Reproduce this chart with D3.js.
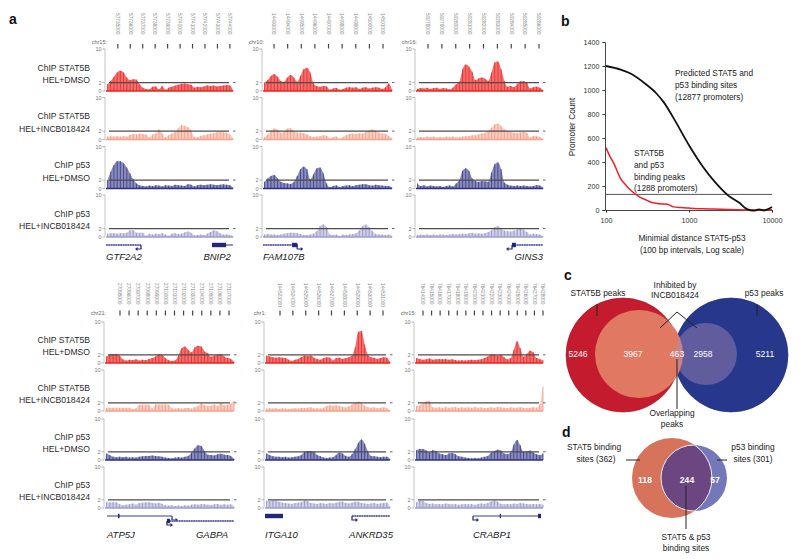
<!DOCTYPE html>
<html><head><meta charset="utf-8">
<script src="https://cdn.jsdelivr.net/npm/d3@7"></script>
<style>body{margin:0;background:#fff}svg{display:block;font-family:"Liberation Sans",Arial,sans-serif}</style>
</head><body><svg id="c" width="800" height="559"></svg>
<script>
// ---------------- DATA ----------------
const trackLabels = [["ChIP STAT5B","HEL+DMSO"],["ChIP STAT5B","HEL+INCB018424"],["ChIP p53","HEL+DMSO"],["ChIP p53","HEL+INCB018424"]];
const axisTicks = [0, 2, 10];
const threshold = 2;
const chrNames = ["chr15:","chr10:","chr16:","chr21:","chr1:","chr15:"];

const coords1 = [57735000,57736000,57737000,57738000,57739000,57740000,57741000,57742000,57743000,57744000];
const coords2 = [14493000,14494000,14495000,14496000,14497000,14498000,14499000,14500000,14501000];
const coords3 = [50278000,50279000,50280000,50281000,50282000,50283000,50284000,50285000,50286000];
const coords4 = [27095000,27096000,27097000,27098000,27099000,27100000,27101000,27102000,27103000,27104000,27105000,27106000,27107000];
const coords5 = [144523000,144524000,144525000,144526000,144527000,144528000,144529000,144530000,144531000];
const coords6 = [76414000,76415000,76416000,76417000,76418000,76419000,76420000,76421000,76422000,76423000,76424000,76425000,76426000,76427000,76428000];
const window1 = [57734050, 57744250];
const window2 = [14492190, 14501660];
const window3 = [50277135, 50286288];
const window4 = [27093350, 27107550];
const window5 = [144521835, 144531544];
const window6 = [76413067, 76428000];

// panel 1: GTF2A2 / BNIP2
const p1_stat5b_dmso = [1.6,2.4,3.4,4.4,4.8,4.4,3.2,2.6,2.8,2.7,1.6,0.8,0.5,0.4,1.0,1.1,0.4,1.2,0.3,0.8,1.0,1.3,1.5,1.7,1.8,1.6,1.5,0.8,1.0,0.9,1.1,1.3,1.2,1.3,1.1,1.2,1.3,1.4,1.3,0.2];
const p1_stat5b_incb = [0.7,0.8,0.7,0.8,0.7,0.8,0.7,1.1,1.3,1.2,1.4,1.3,1.2,0.5,1.2,1.4,2.4,1.5,0.5,1.0,1.4,1.8,2.6,3.4,3.2,2.9,2.2,0.6,0.5,0.9,1.0,1.2,1.4,1.5,1.7,1.8,1.7,1.6,1.2,0.3];
const p1_p53_dmso = [2.0,4.0,5.6,6.5,6.5,6.0,5.0,3.6,2.2,1.2,0.8,0.6,0.5,0.7,0.6,0.8,0.7,0.5,0.8,0.7,0.6,0.9,0.8,0.7,0.6,1.0,0.9,0.5,0.8,0.9,0.8,0.9,1.0,0.9,0.8,0.9,1.0,0.9,0.8,0.2];
const p1_p53_incb = [0.8,0.9,0.9,0.8,0.9,0.9,1.0,1.6,1.6,1.0,1.0,1.0,0.3,0.8,0.6,0.8,0.7,0.9,0.6,0.3,0.8,0.9,0.7,0.8,1.1,1.3,1.0,0.4,0.5,0.6,0.5,0.8,1.2,1.6,1.4,0.9,0.6,0.6,0.5,0.2];
// panel 2: FAM107B
const p2_stat5b_dmso = [2.0,2.6,3.6,4.0,3.4,2.4,2.2,3.2,3.8,3.2,2.2,3.6,5.2,5.5,4.4,1.8,1.2,1.0,1.2,1.1,0.3,0.6,0.7,0.3,0.5,0.8,0.9,0.8,0.9,0.5,0.8,0.9,0.6,0.8,0.9,0.8,0.5,0.9,1.8,0.3];
const p2_stat5b_incb = [0.6,1.2,2.0,2.6,2.4,1.6,1.8,2.6,2.7,2.0,1.6,1.6,1.5,1.2,0.8,0.6,0.7,0.8,1.0,0.9,0.3,0.6,0.7,0.2,0.6,1.0,1.3,1.4,1.3,1.5,1.4,1.8,2.2,2.4,2.1,1.6,1.4,1.3,0.8,0.3];
const p2_p53_dmso = [1.6,2.4,3.0,3.2,2.4,1.6,1.3,1.2,1.1,1.6,3.0,4.6,5.2,4.6,2.2,3.4,4.8,5.0,3.6,1.2,0.3,0.6,0.7,0.3,0.6,0.7,0.8,0.6,0.8,0.9,1.0,1.0,0.8,0.7,0.9,0.8,0.7,0.6,0.6,0.2];
const p2_p53_incb = [0.6,0.7,0.6,0.6,0.5,0.6,0.8,0.9,1.0,1.0,0.9,0.7,0.5,0.5,0.6,0.8,1.4,2.6,3.0,2.4,0.6,0.5,0.6,0.2,0.6,0.5,0.6,0.7,0.9,1.6,2.6,3.0,2.4,1.4,0.7,0.6,0.6,0.5,0.6,0.2];
// panel 3: GINS3
const p3_stat5b_dmso = [0.5,0.7,0.6,0.8,0.5,0.7,0.8,0.5,0.7,0.6,0.4,0.8,1.6,2.2,5.2,6.3,5.8,4.6,2.6,3.0,3.2,2.9,2.4,4.4,6.8,7.0,5.2,2.4,1.0,1.2,0.9,1.6,2.3,2.3,1.9,0.6,0.9,1.0,0.8,0.2];
const p3_stat5b_incb = [0.5,0.6,0.5,0.7,0.6,0.7,0.5,0.6,0.5,0.7,0.6,0.7,0.5,0.6,0.7,0.8,0.8,1.0,1.0,1.2,1.4,1.6,2.0,2.8,3.6,3.8,3.2,2.4,2.0,1.8,1.6,1.5,1.7,1.8,1.6,0.5,0.9,0.8,0.6,0.2];
const p3_p53_dmso = [1.2,0.6,0.8,0.5,0.7,0.6,0.5,0.6,0.4,0.6,0.7,0.5,1.2,2.0,4.2,4.8,4.2,2.4,1.8,1.6,1.8,1.7,1.6,3.8,5.8,6.2,4.6,1.4,0.9,0.7,0.6,0.7,0.6,0.7,0.6,0.5,0.6,0.8,0.7,0.2];
const p3_p53_incb = [0.5,0.6,0.5,0.6,0.5,0.6,0.5,0.6,0.6,0.5,0.6,0.7,0.6,0.7,0.8,0.7,0.9,1.0,0.8,0.9,0.8,0.9,1.2,1.6,2.4,2.6,2.0,1.5,1.4,1.3,1.5,1.8,2.0,1.7,1.2,0.6,0.8,0.7,0.6,0.2];
// panel 4: ATP5J / GABPA
const p4_stat5b_dmso = [1.6,2.0,2.2,2.2,1.8,0.9,0.6,0.8,0.7,0.9,0.6,0.8,0.7,1.0,1.2,1.6,2.2,2.0,1.2,0.7,0.5,0.6,1.8,3.6,4.0,3.2,2.6,3.8,4.2,4.0,2.8,2.4,1.5,1.8,2.0,2.2,1.6,1.2,1.0,0.3];
const p4_stat5b_incb = [0.8,0.8,0.8,0.8,0.8,0.8,0.8,0.8,0.5,0.6,1.5,1.5,1.5,1.5,0.6,1.6,1.6,1.6,1.6,1.5,0.7,0.6,0.7,0.6,0.7,0.8,0.6,0.9,1.2,1.8,1.4,1.2,1.3,1.6,1.2,2.0,1.4,1.5,1.8,2.5];
const p4_p53_dmso = [1.6,1.2,0.8,0.7,0.8,0.7,0.8,0.6,0.7,0.6,0.8,0.9,1.0,1.0,1.1,1.0,0.9,0.8,0.6,0.5,0.4,0.6,0.7,0.6,0.8,1.0,1.8,2.8,3.6,3.4,2.2,1.3,1.2,1.1,1.4,1.5,1.3,1.2,1.0,0.3];
const p4_p53_incb = [1.4,1.4,1.4,1.4,0.9,0.7,0.8,0.9,1.1,0.8,1.2,1.3,1.4,1.4,1.2,1.1,1.3,1.0,0.7,0.6,0.7,0.5,0.6,0.5,0.7,0.6,0.8,0.9,0.8,1.0,0.9,0.8,0.7,0.9,1.0,0.8,0.9,0.8,0.9,0.3];
// panel 5: ITGA10 / ANKRD35
const p5_stat5b_dmso = [1.8,1.6,1.4,1.3,1.4,1.3,1.2,0.8,0.5,0.8,1.0,1.4,1.8,1.7,1.8,1.3,1.0,0.8,1.2,1.4,1.3,0.6,1.2,1.3,1.0,1.2,1.4,1.8,3.8,7.6,7.8,4.5,2.0,1.4,1.3,1.0,1.2,1.4,1.3,0.3];
const p5_stat5b_incb = [0.6,0.7,0.6,0.7,0.5,0.7,0.6,0.5,0.6,0.7,0.6,0.8,0.7,0.8,0.9,0.6,0.7,0.6,0.8,1.2,1.4,1.3,1.4,1.2,1.0,0.9,1.1,1.6,2.0,2.3,2.0,1.3,0.9,0.8,0.9,0.7,0.8,0.9,0.7,0.2];
const p5_p53_dmso = [1.6,1.2,0.9,0.8,0.8,0.7,0.8,0.6,0.7,0.8,0.9,1.2,2.0,2.2,2.2,2.0,1.2,0.9,0.6,0.5,0.6,0.7,1.2,1.8,1.6,1.0,0.8,1.4,2.6,4.2,5.0,4.0,2.2,1.0,0.9,0.8,0.7,0.8,0.8,0.2];
const p5_p53_incb = [1.8,1.7,1.8,1.8,1.5,1.3,1.2,1.1,1.0,1.2,1.3,1.4,1.8,1.7,1.2,1.1,1.0,1.2,1.1,1.0,1.2,1.1,1.3,1.5,1.6,1.2,1.1,1.3,1.5,1.5,1.2,1.1,1.0,1.1,1.2,1.0,1.1,1.2,1.3,0.3];
// panel 6: CRABP1
const p6_stat5b_dmso = [1.2,1.0,0.8,0.9,1.1,0.8,0.9,1.0,0.9,1.0,0.8,0.9,0.7,0.6,0.7,0.6,0.7,0.8,0.7,0.8,0.9,1.2,1.6,2.0,2.0,1.8,2.0,1.4,0.9,1.2,3.2,5.3,3.6,1.5,2.2,3.0,2.6,1.2,1.0,0.6];
const p6_stat5b_incb = [1.2,1.4,1.8,2.4,2.5,0.9,0.8,0.9,0.8,1.0,0.8,0.9,1.0,0.8,0.9,0.8,0.9,0.8,1.0,0.8,0.9,0.7,0.8,0.9,0.8,1.0,0.9,0.8,0.7,0.9,0.8,0.8,0.9,0.8,0.7,0.8,0.9,0.8,1.6,6.0];
const p6_p53_dmso = [2.4,2.7,2.7,2.3,1.8,2.4,2.2,1.6,1.4,1.2,1.6,1.7,1.4,0.9,0.8,0.6,0.5,0.4,0.5,0.4,0.6,0.8,1.0,1.8,2.2,2.5,2.3,1.6,1.4,1.8,3.8,4.9,3.6,2.0,2.0,2.3,1.8,1.4,1.2,1.6];
const p6_p53_incb = [1.4,1.8,1.7,1.2,1.0,1.1,0.9,1.0,0.9,1.1,1.0,0.9,1.0,0.8,0.9,1.0,0.9,1.0,0.8,1.0,1.1,1.0,1.2,1.6,1.8,1.5,1.0,0.9,1.0,0.9,1.1,1.0,1.2,1.1,1.0,0.9,1.0,0.9,1.0,0.8];

// genes (genomic coordinates)
const genes1 = [
  {name:"GTF2A2", start:57734050, end:57736860, exons:[], tss:57736860, dir:-1, lane:0, hatched:true, anchor:"start", at:57734050},
  {name:"BNIP2", start:57742560, end:57744250, exons:[[57742560,57743690]], tss:null, dir:0, lane:0, hatched:false, anchor:"end", at:57744080}
];
const genes2 = [
  {name:"FAM107B", start:14492190, end:14494760, exons:[[14494320,14494700]], tss:14494700, dir:1, lane:0, hatched:true, anchor:"start", at:14492190}
];
const genes3 = [
  {name:"GINS3", start:50284054, end:50286288, exons:[[50284054,50284340]], tss:50284054, dir:-1, lane:0, hatched:true, anchor:"end", at:50286288}
];
const genes4 = [
  {name:"ATP5J", start:27093570, end:27100730, exons:[[27094780,27094950]], tss:27100730, dir:1, lane:0, hatched:false, anchor:"start", at:27093570},
  {name:"GABPA", start:27100170, end:27107550, exons:[[27100170,27100500]], tss:27100170, dir:1, lane:1, hatched:true, anchor:"end", at:27106890}
];
const genes5 = [
  {name:"ITGA10", start:144521835, end:144523233, exons:[[144521835,144523233]], tss:null, dir:0, lane:0, hatched:false, anchor:"start", at:144521835},
  {name:"ANKRD35", start:144528592, end:144531544, exons:[], tss:144528592, dir:1, lane:0, hatched:true, anchor:"middle", at:144530070}
];
const genes6 = [
  {name:"CRABP1", start:76419830, end:76427770, exons:[[76422950,76423030],[76427420,76427770]], tss:76419830, dir:1, lane:0, hatched:false, anchor:"middle", at:76422050}
];

// panel b
const predictedBins = [100,150,200,300,400,500,700,1000,1500,2000,3000,4000,5000,6000,7000,8000,9000,10000];
const predictedCounts = [1200,1170,1135,1050,975,895,728,540,352,242,118,62,7,-6,5,-4,8,25];
const peakBins = [100,110,125,150,175,200,250,300,350,400,500,550,650,800,1000,1500,2000,3000,5000,7000,10000];
const peakCounts = [520,455,385,262,205,162,112,85,65,57,50,48,26,20,16,10,8,4,1,0,2];
const bYTicks = [0,200,400,600,800,1000,1200,1400];
const bXTicks = [100,1000,10000];
const bCutoff = 130;

// panel c
const vennC = {stat5bOnly:5246, stat5bInhibited:3967, overlap:463, p53Inhibited:2958, p53Only:5211};
// panel d
const vennD = {stat5Only:118, both:244, p53Only:57, stat5Total:362, p53Total:301};

// ---------------- DRAW ----------------
const svg = d3.select("#c");
const panelLetter = (t,x,y) => svg.append("text").attr("x",x).attr("y",y).attr("font-size",14).attr("font-weight","bold").attr("fill","#111").text(t);

panelLetter("a", 9, 24);
panelLetter("b", 561, 26);
panelLetter("c", 564, 280);
panelLetter("d", 562, 437);

const rows = [
  {bases:[91,139.5,188.5,237], h:42, labY:13, tickY:[44,48.5], chrY:43.5, geneY:245, geneLabY:260},
  {bases:[363,411,460,508], h:41, labY:283, tickY:[310.5,315.5], chrY:314.5, geneY:516, geneLabY:538}
];
const trackStyle = [
  {area:"#f56e6c", bar:"#e42a2a", base:"#e8231f"},
  {area:"#fbcbbd", bar:"#f29a86", base:"#f4a28c"},
  {area:"#8a8cbe", bar:"#363981", base:"#2d3081"},
  {area:"#cdcde6", bar:"#9193c4", base:"#9c9ecb"}
];
const panels = [
  {row:0, x:[106,233], chr:chrNames[0], win:window1, ticks:coords1, tracks:[p1_stat5b_dmso,p1_stat5b_incb,p1_p53_dmso,p1_p53_incb], genes:genes1, labels:true},
  {row:0, x:[263,392], chr:chrNames[1], win:window2, ticks:coords2, tracks:[p2_stat5b_dmso,p2_stat5b_incb,p2_p53_dmso,p2_p53_incb], genes:genes2},
  {row:0, x:[416,543], chr:chrNames[2], win:window3, ticks:coords3, tracks:[p3_stat5b_dmso,p3_stat5b_incb,p3_p53_dmso,p3_p53_incb], genes:genes3},
  {row:1, x:[105,234], chr:chrNames[3], win:window4, ticks:coords4, tracks:[p4_stat5b_dmso,p4_stat5b_incb,p4_p53_dmso,p4_p53_incb], genes:genes4, labels:true},
  {row:1, x:[265,390], chr:chrNames[4], win:window5, ticks:coords5, tracks:[p5_stat5b_dmso,p5_stat5b_incb,p5_p53_dmso,p5_p53_incb], genes:genes5},
  {row:1, x:[415,543], chr:chrNames[5], win:window6, ticks:coords6, tracks:[p6_stat5b_dmso,p6_stat5b_incb,p6_p53_dmso,p6_p53_incb], genes:genes6}
];

panels.forEach(p => {
  const R = rows[p.row];
  const [x0,x1] = p.x;
  const g = svg.append("g");
  const xs = d3.scaleLinear().domain(p.win).range([x0,x1]);
  // coordinate ticks
  p.ticks.forEach(c => {
    const px = xs(c);
    g.append("line").attr("x1",px).attr("x2",px).attr("y1",R.tickY[0]).attr("y2",R.tickY[1]).attr("stroke","#444").attr("stroke-width",1.2);
    g.append("text").attr("transform",`translate(${px-1.7},${R.labY}) rotate(90)`).attr("font-size",4.8).attr("fill","#888").text(c);
  });
  g.append("text").attr("x",x0+1).attr("y",R.chrY).attr("text-anchor","end").attr("font-size",5.5).attr("fill","#666").text(p.chr);

  p.tracks.forEach((vals,ti) => {
    const base = R.bases[ti], st = trackStyle[ti];
    const y = d3.scaleLinear().domain([0,10]).range([base, base-R.h]);
    const xi = d3.scaleLinear().domain([0, vals.length-1]).range([x0+1.5, x1]);
    // axis
    g.append("line").attr("x1",x0-1).attr("x2",x0-1).attr("y1",y(10)).attr("y2",y(0)).attr("stroke","#b5b5b5").attr("stroke-width",0.8);
    axisTicks.forEach(t => {
      g.append("line").attr("x1",x0-3.5).attr("x2",x0-1).attr("y1",y(t)).attr("y2",y(t)).attr("stroke","#999").attr("stroke-width",0.7);
      g.append("text").attr("x",x0-4.5).attr("y",y(t)+2).attr("text-anchor","end").attr("font-size",5.5).attr("fill","#777").text(t);
    });
    // area
    g.append("path").datum(vals)
      .attr("d", d3.area().x((d,i)=>xi(i)).y0(base).y1(d=>y(d)).curve(d3.curveMonotoneX))
      .attr("fill", st.area);
    // bars
    g.selectAll(null).data(vals).join("line")
      .attr("x1",(d,i)=>xi(i)).attr("x2",(d,i)=>xi(i))
      .attr("y1",base).attr("y2",d=>y(d))
      .attr("stroke",st.bar).attr("stroke-width",0.8);
    // baseline
    g.append("line").attr("x1",x0).attr("x2",x1).attr("y1",base).attr("y2",base).attr("stroke",st.base).attr("stroke-width",1.7);
    // threshold
    g.append("line").attr("x1",x0+3).attr("x2",x1-4).attr("y1",y(threshold)).attr("y2",y(threshold)).attr("stroke","#4d4d4d").attr("stroke-width",1.3);
    g.append("line").attr("x1",x1).attr("x2",x1+2.5).attr("y1",y(threshold)).attr("y2",y(threshold)).attr("stroke","#666").attr("stroke-width",1);
    // labels
    if (p.labels) {
      trackLabels[ti].forEach((t,li) => {
        g.append("text").attr("x",90).attr("y",base-20.5+li*12.5).attr("text-anchor","end").attr("font-size",8.6).attr("fill","#2a2a2a").text(t);
      });
    }
  });

  // genes
  p.genes.forEach(ge => {
    const gy = R.geneY + ge.lane*5;
    const a = xs(ge.start), b = xs(ge.end);
    if (ge.hatched) {
      g.append("line").attr("x1",a).attr("x2",b).attr("y1",gy).attr("y2",gy).attr("stroke","#8285c4").attr("stroke-width",2.2).attr("stroke-dasharray","1.6,0.8");
      g.append("line").attr("x1",a).attr("x2",b).attr("y1",gy).attr("y2",gy).attr("stroke","#4a4d9a").attr("stroke-width",0.8);
    } else {
      g.append("line").attr("x1",a).attr("x2",b).attr("y1",gy).attr("y2",gy).attr("stroke","#3c3f90").attr("stroke-width",1.1);
    }
    ge.exons.forEach(ex => {
      g.append("rect").attr("x",xs(ex[0])).attr("y",gy-2.2).attr("width",Math.max(1.2,xs(ex[1])-xs(ex[0]))).attr("height",4.4).attr("fill","#23267a");
    });
    if (ge.tss !== null) {
      const tx = xs(ge.tss), d = ge.dir;
      g.append("path").attr("d",`M${tx},${gy} v4 h${d*4}`).attr("fill","none").attr("stroke","#23267a").attr("stroke-width",1.2);
      g.append("path").attr("d",`M${tx+d*6},${gy+4} l${-d*2.5},-2 v4 z`).attr("fill","#23267a");
    }
    g.append("text").attr("x",xs(ge.at)).attr("y",R.geneLabY).attr("text-anchor",ge.anchor)
      .attr("font-size",9.5).attr("font-style","italic").attr("fill","#1a1a1a").text(ge.name);
  });
});

// ---------------- PANEL B ----------------
{
  const g = svg.append("g");
  const x = d3.scaleLog().domain([100,10000]).range([606,772]);
  const y = d3.scaleLinear().domain([0,1400]).range([210,42]);
  const ya = g.append("g").attr("transform","translate(605,0)").call(d3.axisLeft(y).tickValues(bYTicks).tickSize(2.5).tickFormat(d3.format("d")));
  const xa = g.append("g").attr("transform","translate(0,210)").call(d3.axisBottom(x).tickValues(bXTicks).tickSize(2.5).tickFormat(d3.format("d")));
  [ya,xa].forEach(a => {
    a.selectAll("path").attr("stroke","#333").attr("stroke-width",0.9);
    a.selectAll("line").attr("stroke","#333");
    a.selectAll("text").attr("font-size",7.2).attr("fill","#333").attr("font-family",'"Liberation Sans",Arial,sans-serif');
  });
  xa.selectAll("text").attr("dy","1.1em");
  g.append("line").attr("x1",x(100)).attr("x2",x(10000)).attr("y1",y(bCutoff)).attr("y2",y(bCutoff)).attr("stroke","#555").attr("stroke-width",1);
  const line = (xs,ys) => d3.line().x((d,i)=>x(xs[i])).y(d=>y(d)).curve(d3.curveMonotoneX)(ys);
  g.append("path").attr("d",line(peakBins,peakCounts)).attr("fill","none").attr("stroke","#e8222a").attr("stroke-width",1.5);
  g.append("path").attr("d",line(predictedBins,predictedCounts)).attr("fill","none").attr("stroke","#111").attr("stroke-width",1.8);
  g.append("text").attr("transform","translate(575,127) rotate(-90)").attr("text-anchor","middle").attr("font-size",8.3).attr("fill","#222").text("Promoter Count");
  [["Minimial distance  STAT5-p53",241],["(100 bp intervals,  Log scale)",253]].forEach(([t,yy]) =>
    g.append("text").attr("x",692).attr("y",yy).attr("text-anchor","middle").attr("font-size",8.3).attr("fill","#222").text(t));
  ["Predicted  STAT5 and","p53  binding  sites","(12877  promoters)"].forEach((t,i) =>
    g.append("text").attr("x",675).attr("y",76+i*12.2).attr("font-size",8.3).attr("fill","#222").text(t));
  ["STAT5B","and  p53","binding  peaks","(1288  promoters)"].forEach((t,i) =>
    g.append("text").attr("x",634).attr("y",156+i*11.8).attr("font-size",8.3).attr("fill","#222").text(t));
}

// ---------------- PANEL C ----------------
{
  const g = svg.append("g");
  g.append("circle").attr("cx",623).attr("cy",355).attr("r",57).attr("fill","#c41c2e").attr("stroke","#a8141f").attr("stroke-width",0.6);
  g.append("circle").attr("cx",731).attr("cy",355).attr("r",57).attr("fill","#26378c").attr("stroke","#1c2a75").attr("stroke-width",0.6);
  g.append("circle").attr("cx",639).attr("cy",354).attr("r",44).attr("fill","#e07862");
  g.append("circle").attr("cx",706).attr("cy",354).attr("r",31).attr("fill","#b090b8").attr("opacity",0.42);
  const nums = [[vennC.stat5bOnly,578],[vennC.stat5bInhibited,633],[vennC.overlap,677],[vennC.p53Inhibited,703],[vennC.p53Only,765]];
  nums.forEach(([v,xx]) => g.append("text").attr("x",xx).attr("y",357).attr("text-anchor","middle").attr("font-size",8.6).attr("fill","#fff").text(v));
  const txt = (t,xx,yy) => g.append("text").attr("x",xx).attr("y",yy).attr("text-anchor","middle").attr("font-size",8.4).attr("fill","#222").text(t);
  txt("STAT5B peaks",598,296); txt("p53  peaks",764,296);
  txt("Inhibited  by",675,288); txt("INCB018424",675,298);
  txt("Overlapping",672,416); txt("peaks",672,427);
  const ln = d => g.append("path").attr("d",d).attr("fill","none").attr("stroke","#222").attr("stroke-width",1);
  ln("M597,304V316"); ln("M757,304V316"); ln("M660,328L677,312L697,328"); ln("M677,359V409");
}

// ---------------- PANEL D ----------------
{
  const g = svg.append("g");
  const defs = svg.append("defs");
  defs.append("clipPath").attr("id","clipS").append("circle").attr("cx",672).attr("cy",478).attr("r",40);
  defs.append("clipPath").attr("id","clipP").append("circle").attr("cx",694).attr("cy",478).attr("r",33);
  g.append("circle").attr("cx",672).attr("cy",478).attr("r",40).attr("fill","#d6735a");
  g.append("circle").attr("cx",694).attr("cy",478).attr("r",33).attr("fill","#7478b9");
  g.append("circle").attr("cx",694).attr("cy",478).attr("r",33).attr("fill","#6c4680").attr("clip-path","url(#clipS)");
  g.append("circle").attr("cx",694).attr("cy",478).attr("r",33).attr("fill","none").attr("stroke","#fff").attr("stroke-width",0.9).attr("clip-path","url(#clipS)");
  g.append("circle").attr("cx",672).attr("cy",478).attr("r",40).attr("fill","none").attr("stroke","#fff").attr("stroke-width",0.9).attr("clip-path","url(#clipP)");
  [[vennD.stat5Only,645],[vennD.both,687],[vennD.p53Only,715]].forEach(([v,xx]) =>
    g.append("text").attr("x",xx).attr("y",483).attr("text-anchor","middle").attr("font-size",8.6).attr("font-weight","bold").attr("fill","#fff").text(v));
  const txt = (t,xx,yy) => g.append("text").attr("x",xx).attr("y",yy).attr("text-anchor","middle").attr("font-size",8.4).attr("fill","#222").text(t);
  txt("STAT5 binding",594,450); txt(`sites (${vennD.stat5Total})`,596,462);
  txt("p53  binding",753,450); txt(`sites (${vennD.p53Total})`,753,462);
  txt("STAT5 & p53",686,540); txt("binding  sites",686,551);
  const ln = d => g.append("path").attr("d",d).attr("fill","none").attr("stroke","#222").attr("stroke-width",1);
  ln("M626,460H640"); ln("M717,460H727"); ln("M686,486V529");
}
</script></body></html>
